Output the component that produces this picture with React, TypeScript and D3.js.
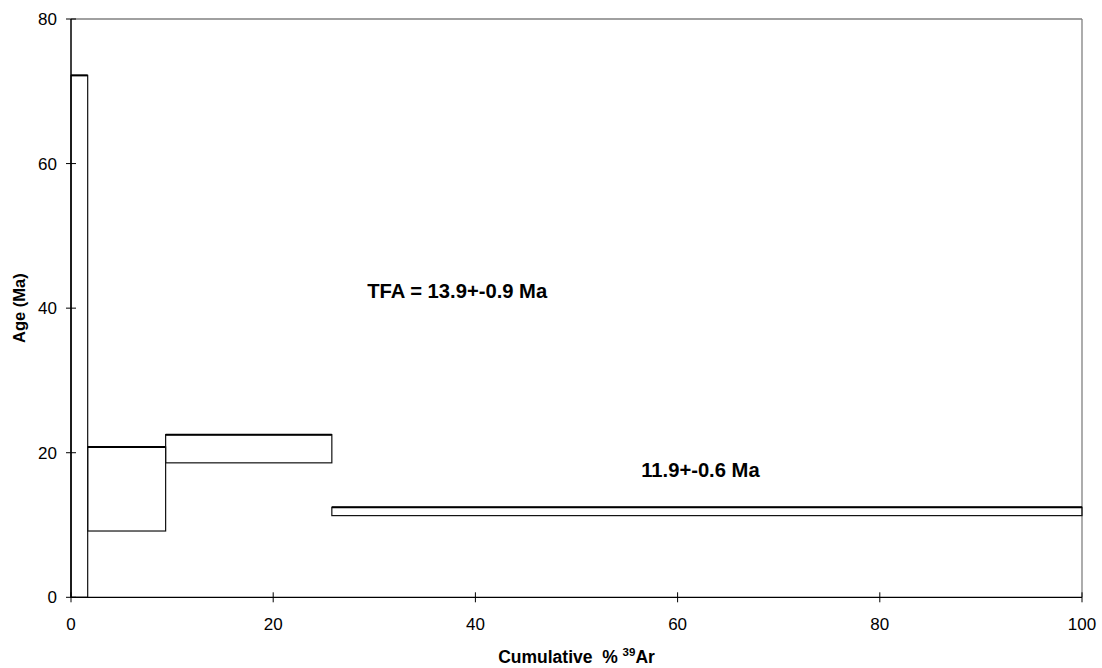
import * as d3 from 'd3';

// cumulative % 39Ar at the step edges
const stepEdges = [0, 1.65, 9.36, 25.8, 100];
// age band per step (Ma)
const upperAge = [72.2, 20.8, 22.5, 12.45];
const lowerAge = [0, 9.17, 18.6, 11.3];
const xTicks = [0, 20, 40, 60, 80, 100];
const yTicks = [0, 20, 40, 60, 80];
const notes = [
  { text: 'TFA = 13.9+-0.9 Ma', x: 29.3, y: 41.4 },
  { text: '11.9+-0.6 Ma', x: 56.4, y: 16.6 },
];

const width = 1102;
const height = 668;

const App = () => {
  const x = d3.scaleLinear().domain([0, 100]).range([71, 1082]);
  const y = d3.scaleLinear().domain([0, 80]).range([597.3, 19]);
  const font = 'Arial, "Liberation Sans", sans-serif';

  const steps = upperAge.map((u, i) => ({
    x0: stepEdges[i],
    x1: stepEdges[i + 1],
    hi: u,
    lo: lowerAge[i],
  }));

  return (
    <svg width={width} height={height} style={{ position: 'absolute', left: 0, top: 0 }} fontFamily={font}>
      <rect x={0} y={0} width={width} height={height} fill="#fff" />
      {/* plot frame */}
      <line x1={x(0)} x2={x(100)} y1={y(80)} y2={y(80)} stroke="#808080" strokeWidth={1.3} />
      <line x1={x(100)} x2={x(100)} y1={y(80)} y2={y(0)} stroke="#808080" strokeWidth={1.3} />

      {/* step boxes */}
      {steps.map((s, i) => (
        <g key={i}>
          <rect
            x={x(s.x0)}
            y={y(s.hi)}
            width={x(s.x1) - x(s.x0)}
            height={y(s.lo) - y(s.hi)}
            fill="none"
            stroke="#111"
            strokeWidth={1.2}
          />
          <line x1={x(s.x0)} x2={x(s.x1)} y1={y(s.hi)} y2={y(s.hi)} stroke="#000" strokeWidth={2} />
        </g>
      ))}

      {/* axes */}
      <line x1={x(0)} x2={x(0)} y1={y(80)} y2={y(0)} stroke="#000" strokeWidth={1.5} />
      <line x1={x(0)} x2={x(100)} y1={y(0)} y2={y(0)} stroke="#000" strokeWidth={1.3} />
      {yTicks.map((t) => (
        <g key={'y' + t}>
          <line x1={x(0) - 5} x2={x(0) + 5} y1={y(t)} y2={y(t)} stroke="#000" strokeWidth={1} />
          <text x={x(0) - 14} y={y(t)} dy="0.36em" textAnchor="end" fontSize={17} fill="#000">
            {t}
          </text>
        </g>
      ))}
      {xTicks.map((t) => (
        <g key={'x' + t}>
          <line x1={x(t)} x2={x(t)} y1={y(0) - 5} y2={y(0) + 5} stroke="#000" strokeWidth={1} />
          <text x={x(t)} y={630} textAnchor="middle" fontSize={17} fill="#000">
            {t}
          </text>
        </g>
      ))}

      {/* axis titles */}
      <text
        transform={`translate(25, ${(y(0) + y(80)) / 2}) rotate(-90)`}
        textAnchor="middle"
        fontSize={16.5}
        fontWeight="bold"
        fill="#000"
      >
        Age (Ma)
      </text>
      <text x={(x(0) + x(100)) / 2} y={663} textAnchor="middle" fontSize={17.5} fontWeight="bold" fill="#000">
        {'Cumulative\u00a0\u00a0% '}
        <tspan fontSize={11.5} dy={-7}>39</tspan>
        <tspan dy={7}>Ar</tspan>
      </text>

      {/* annotations */}
      {notes.map((n) => (
        <text key={n.text} x={x(n.x)} y={y(n.y)} fontSize={20.2} fontWeight="bold" fill="#000">
          {n.text}
        </text>
      ))}
    </svg>
  );
};

export default App;
